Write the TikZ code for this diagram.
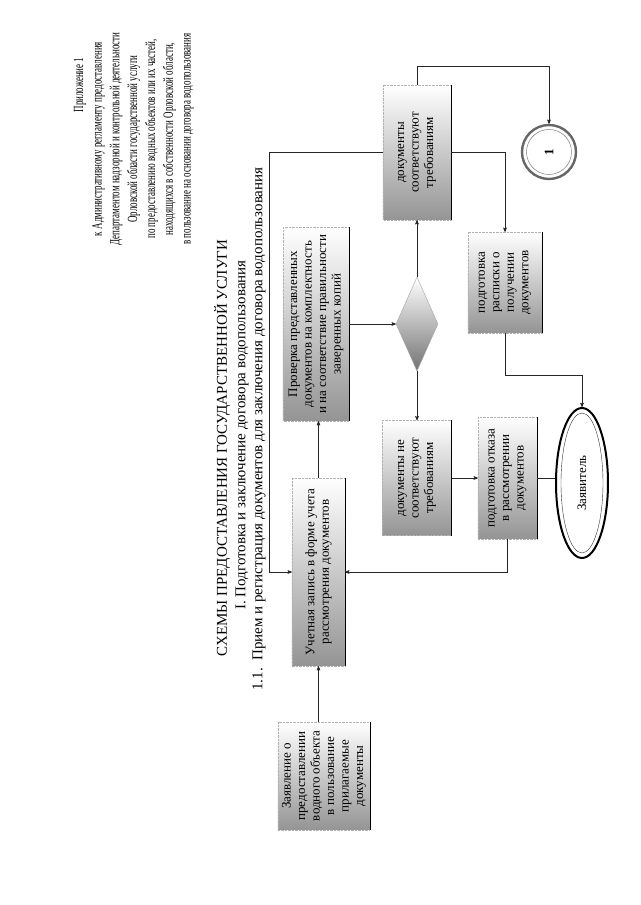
\documentclass[tikz,border=0pt]{standalone}
\usepackage{fontspec}
\setmainfont{Liberation Serif}
\newfontfamily\hdrfont[FakeStretch=0.64]{Liberation Serif}
\usetikzlibrary{shapes.geometric, arrows}
\newcommand{\boxfont}{\fontsize{13}{14.5}\selectfont}
\tikzset{
box/.style={ % Shaded process boxes
rectangle, draw=gray!60, densely dotted,
top color=white, bottom color=black!42,
inner sep=0pt, align=center, font=\boxfont},
decision/.style={ % Diamond of the check
diamond, draw=gray!70, top color=white, bottom color=black!55,
inner sep=0pt},
terminal/.style={ % Thick outlined ellipse
ellipse, draw=black, line width=2pt, fill=white,
inner sep=0pt, font=\boxfont},
connector/.style={ % Page connector
circle, draw=black!60, line width=2.4pt, fill=white,
minimum size=54pt, inner sep=0pt, font=\boxfont\bfseries},
hdr/.style={font=\hdrfont\fontsize{14}{17.8}\selectfont, align=center},
ttl/.style={font=\fontsize{15}{18}\selectfont},
flow/.style={draw=black!85, line width=0.6pt},
every edge/.style={ % Arrows between boxes
draw=black!85, ->, >=stealth', line width=0.6pt}}

\begin{document}
\begin{tikzpicture}[x=1pt, y=1pt, >=stealth']
\begin{scope}[rotate=90, transform shape]
    \useasboundingbox (0,0) rectangle (905,640);

    % heading
    \node[hdr] (app) at (820,560) {Приложение 1};
    \node[hdr] (reg) at (766,497) {к Административному регламенту предоставления\\
        Департаментом надзорной и контрольной деятельности\\
        Орловской области государственной услуги\\
        по предоставлению водных объектов или их частей,\\
        находящихся в собственности Орловской области,\\
        в пользование на основании договора водопользования};

    \node[ttl] (title) at (457,418) {СХЕМЫ ПРЕДОСТАВЛЕНИЯ ГОСУДАРСТВЕННОЙ УСЛУГИ};
    \node[ttl] (part) at (470,398) {I. Подготовка и заключение договора водопользования};
    \node[ttl] (sub) at (476,381) {1.1.\enspace Прием и регистрация документов для заключения договора водопользования};

    % boxes
    \node[box, minimum width=108pt, minimum height=92pt] (zayavl) at (129,316)
        {Заявление о\\предоставлении\\водного объекта\\в пользование\\прилагаемые\\документы};
    \node[box, minimum width=188pt, minimum height=53pt] (uchet) at (333,321.5)
        {Учетная запись в форме учета\\рассмотрения документов};
    \node[box, minimum width=194pt, minimum height=66pt] (prov) at (581,324)
        {Проверка представленных\\документов на комплектность\\и на соответствие правильности\\заверенных копий};
    \node[decision, minimum width=94pt, minimum height=42pt] (dia) at (581,223) {};
    \node[box, minimum width=135pt, minimum height=68pt] (sootv) at (752.5,223)
        {документы\\соответствуют\\требованиям};
    \node[box, minimum width=115pt, minimum height=69pt] (nesootv) at (427,223)
        {документы не\\соответствуют\\требованиям};
    \node[box, minimum width=122pt, minimum height=59pt] (otkaz) at (427,132.5)
        {подготовка отказа\\в рассмотрении\\документов};
    \node[box, minimum width=101pt, minimum height=74pt] (raspis) at (622.5,135)
        {подготовка\\расписки о\\получении\\документов};
    \node[terminal, minimum width=150pt, minimum height=52pt] (zayavit) at (422,58) {Заявитель};
    \node[connector] (con1) at (753,91) {1};

    % inner rings and dark edges
    \draw[black!80, line width=0.4pt] (zayavit.center) ellipse [x radius=70, y radius=21];
    \draw[black!60, line width=0.4pt] (con1.center) circle [radius=22.5];
    \foreach \b in {zayavl,uchet,prov,sootv,nesootv,otkaz,raspis}
        \draw[line width=1.2pt] (\b.south west) -- (\b.south east);

    % connectors
    \draw (zayavl.east |- uchet.west) edge (uchet.west);
    \draw (uchet.east) edge (uchet.east -| prov.west);
    \draw (prov.south -| dia.north) edge (dia.north);
    \draw (dia.east) edge (sootv.west);
    \draw (dia.west) edge (nesootv.east);
    \draw (nesootv.south) edge (otkaz.north);
    \draw[flow] (otkaz.south) -- (otkaz.south |- zayavit.north);
    \draw[flow, ->] (otkaz.west) -| (uchet.south);
    \draw[flow, ->] (sootv.north) -- ++(0,113) -| (uchet.north);
    \draw[flow, ->] (sootv.south) |- (raspis.east);
    \draw[flow, ->] (sootv.east) -- ++(18,0) |- (con1.east);
    \draw[flow, ->] (raspis.west) -- ++(-42,0) |- (zayavit.east);

\end{scope}
\end{tikzpicture}
\end{document}
